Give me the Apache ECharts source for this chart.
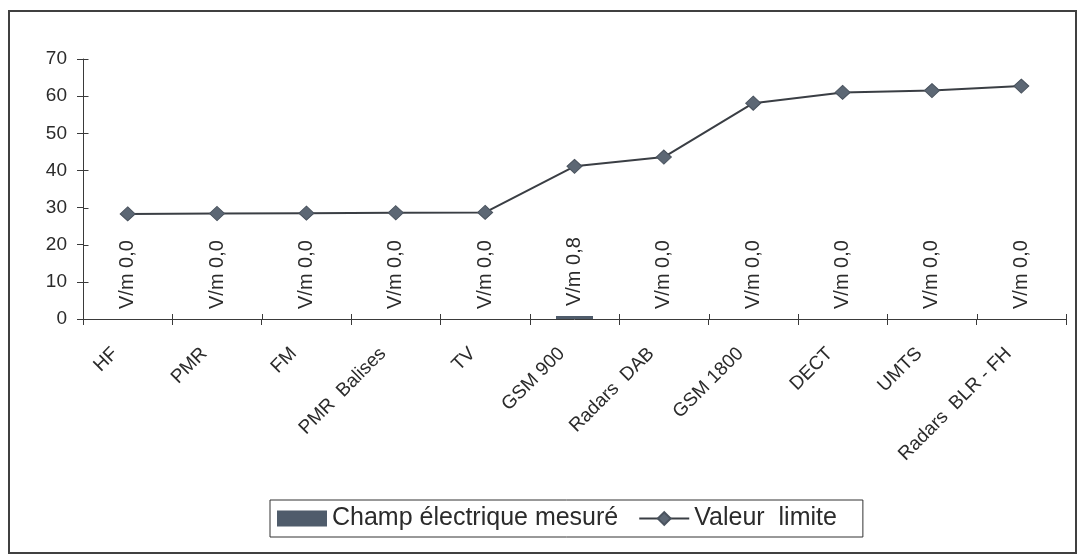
<!DOCTYPE html>
<html>
<head>
<meta charset="utf-8">
<script src="https://cdn.jsdelivr.net/npm/echarts@6/dist/echarts.min.js"></script>
<style>
  html, body { margin: 0; padding: 0; background: #fff; }
  #chart { width: 1084px; height: 556px; }
</style>
</head>
<body>
<div id="chart"></div>
<script>
// Sources of exposure along the x axis
const categories = ['HF', 'PMR', 'FM', 'PMR  Balises', 'TV', 'GSM 900', 'Radars  DAB', 'GSM 1800', 'DECT', 'UMTS', 'Radars  BLR - FH'];
// Measured electric field (V/m)
const measured = [0, 0, 0, 0, 0, 0.8, 0, 0, 0, 0, 0];
// Regulatory limit value (V/m)
const limitValue = [28.3, 28.4, 28.5, 28.6, 28.7, 41.1, 43.6, 58.1, 61.0, 61.5, 62.7];
// Y axis range and step
const yMin = 0, yMax = 70, yStep = 10;

const FONT = '"Liberation Sans", Arial, sans-serif';
const INK = '#2b2b2b';
const AXIS = '#3a3a3a';

const frame = {
  type: 'rect',
  shape: { x: 9, y: 11, width: 1067, height: 542 },
  style: { fill: 'none', stroke: '#404040', lineWidth: 2 },
  silent: true
};

const chart = echarts.init(document.getElementById('chart'), null, { renderer: 'canvas' });

chart.setOption({
  animation: false,
  backgroundColor: '#ffffff',
  textStyle: { fontFamily: FONT, color: INK },
  grid: { left: 83, right: 18, top: 59, bottom: 237, containLabel: false },
  graphic: [frame],
  legend: {
    left: 270, top: 500,
    padding: [6, 26, 6, 7],
    itemGap: 20,
    itemWidth: 50, itemHeight: 16,
    borderColor: '#333', borderWidth: 1,
    backgroundColor: '#fff',
    textStyle: { fontFamily: FONT, fontSize: 25, color: INK },
    data: [
      { name: 'Champ électrique mesuré', icon: 'rect' },
      { name: 'Valeur  limite' }
    ]
  },
  xAxis: {
    type: 'category',
    data: categories,
    boundaryGap: true,
    axisLine: { show: true, lineStyle: { color: AXIS, width: 1 } },
    axisTick: { show: true, interval: 0, alignWithLabel: false, length: 6, lineStyle: { color: AXIS, width: 1 } },
    axisLabel: {
      rotate: 45, interval: 0, margin: 19,
      fontFamily: FONT, fontSize: 19, color: INK,
      padding: [0, 18, 0, 0]
    },
    splitLine: { show: false }
  },
  yAxis: {
    type: 'value',
    min: yMin, max: yMax, interval: yStep,
    axisLine: { show: true, lineStyle: { color: AXIS, width: 1 } },
    axisTick: { show: true, length: 6, lineStyle: { color: AXIS } },
    axisLabel: { margin: 16, fontFamily: FONT, fontSize: 19, color: INK },
    splitLine: { show: false }
  },
  series: [{
    name: 'Champ électrique mesuré',
    type: 'bar',
    data: measured,
    barWidth: 37,
    itemStyle: { color: '#4f5c6b' },
    label: {
      show: true,
      position: 'top',
      rotate: 90,
      align: 'left',
      verticalAlign: 'middle',
      distance: 10,
      fontFamily: FONT, fontSize: 20, color: INK,
      formatter: p => 'V/m ' + p.value.toFixed(1).replace('.', ',')
    },
    z: 2
  }, {
    name: 'Valeur  limite',
    type: 'line',
    data: limitValue,
    symbol: 'diamond',
    symbolSize: [15, 14],
    lineStyle: { color: '#3a3e44', width: 2 },
    itemStyle: { color: '#5c6774', borderColor: '#4a535e', borderWidth: 1 },
    z: 3
  }]
});

// Tick marks cross the axis lines: add the inner half of each tick,
// placed with the chart's own axis scales.
const crisp = v => Math.round(v) + 0.5;
const tickStyle = { stroke: AXIS, lineWidth: 1 };
const c0 = chart.convertToPixel({ xAxisIndex: 0 }, 0);
const c1 = chart.convertToPixel({ xAxisIndex: 0 }, 1);
const band = c1 - c0;
const xStart = c0 - band / 2;
const yBase = chart.convertToPixel({ yAxisIndex: 0 }, yMin);
const innerTicks = [];
for (let i = 0; i <= categories.length; i++) {
  const x = crisp(xStart + i * band);
  innerTicks.push({
    type: 'line', silent: true, z: 10,
    shape: { x1: x, y1: yBase - 5, x2: x, y2: yBase },
    style: tickStyle
  });
}
for (let v = yMin; v <= yMax; v += yStep) {
  const y = crisp(chart.convertToPixel({ yAxisIndex: 0 }, v));
  const x = crisp(xStart);
  innerTicks.push({
    type: 'line', silent: true, z: 10,
    shape: { x1: x, y1: y, x2: x + 5, y2: y },
    style: tickStyle
  });
}
chart.setOption({ graphic: [frame].concat(innerTicks) });
</script>
</body>
</html>
